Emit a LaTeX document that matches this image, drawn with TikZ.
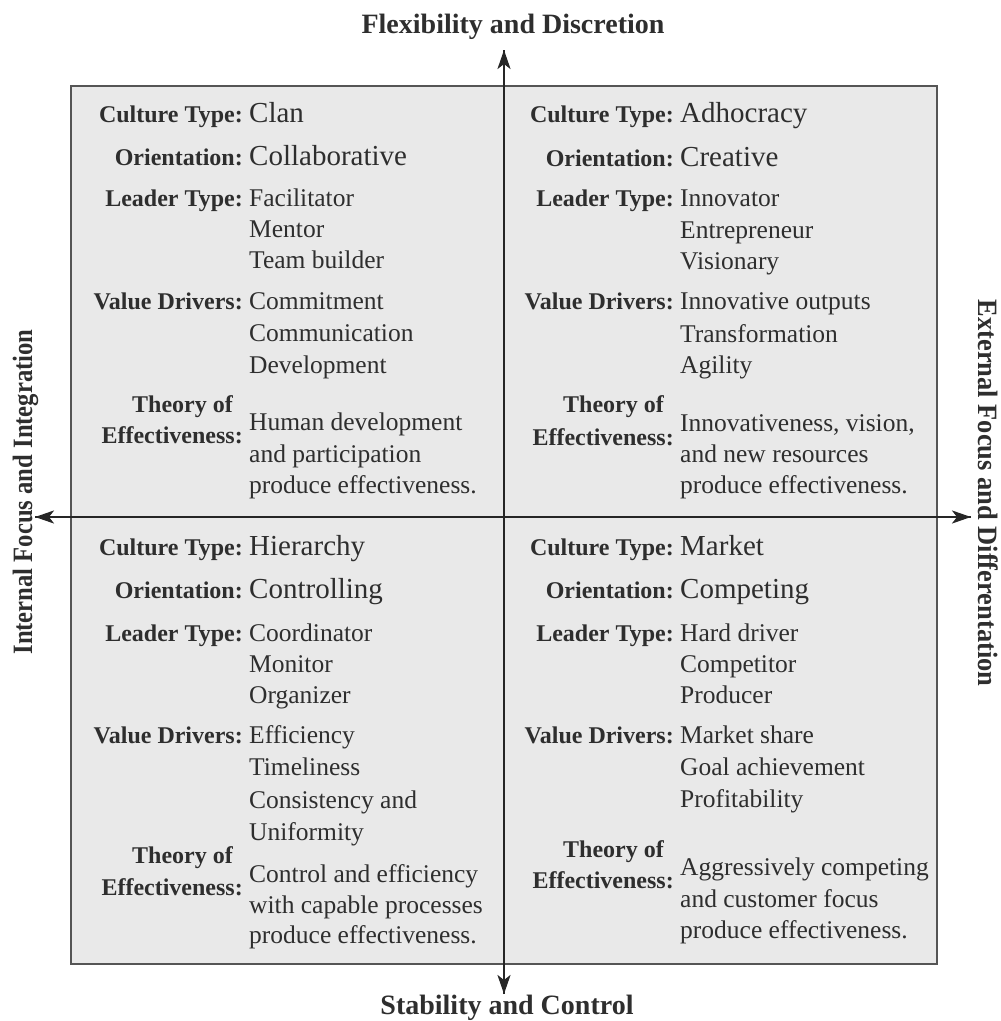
\documentclass[tikz,border=0pt]{standalone}
\usepackage{fontspec}
\setmainfont{Liberation Serif}
\usetikzlibrary{arrows.meta}
\definecolor{boxfill}{HTML}{E9E9E9}
\definecolor{boxline}{HTML}{555555}
\definecolor{txt}{HTML}{2E2E2E}
\begin{document}
\begin{tikzpicture}[x=1pt,y=-1pt,
  lab/.style={anchor=base east,inner sep=0pt,text=txt,font=\fontsize{24}{28}\selectfont\bfseries},
  val/.style={anchor=base west,inner sep=0pt,text=txt,font=\fontsize{25.5}{31}\selectfont},
  big/.style={anchor=base west,inner sep=0pt,text=txt,font=\fontsize{29}{34}\selectfont},
  axlab/.style={inner sep=0pt,text=txt,font=\fontsize{28}{32}\selectfont\bfseries},
  axis/.style={line width=2.4pt,black!85,-{Stealth[length=19pt,width=13pt,inset=5pt]}}]
\useasboundingbox (0,0) rectangle (1001,1021);
\node[draw=boxline,fill=boxfill,line width=2pt,minimum width=866pt,minimum height=878pt,inner sep=0pt,anchor=north west] (box) at (70,85) {};
% axes
\coordinate (ctr) at (504,517);
\coordinate (top) at (504,50);
\coordinate (bot) at (504,994);
\coordinate (lft) at (35,517);
\coordinate (rgt) at (971,517);
\draw[axis] (bot) -- (top);
\draw[axis] (rgt) -- (lft);
\draw[axis] (lft) -- (rgt);
\draw[axis] (top) -- (bot);
% axis labels
\node[axlab,anchor=base] (tlab) at (513,33) {Flexibility and Discretion};
\node[axlab,anchor=base] (blab) at (507,1014) {Stability and Control};
\node[axlab,anchor=base,rotate=90] (llab) at (32,492) {\scalebox{0.88}[1]{Internal Focus and Integration}};
\node[axlab,anchor=base,rotate=-90] (rlab) at (978,493) {\scalebox{0.945}[1]{External Focus and Differentation}};
% ---------- Top left: Clan
\node[lab] (tl1) at (243,122) {Culture Type:};
\node[big] (tl1v) at (249,122) {Clan};
\node[lab] (tl2) at (243,165) {Orientation:};
\node[big] (tl2v) at (249,165) {Collaborative};
\node[lab] (tl3) at (243,206) {Leader Type:};
\node[val] (tl3a) at (249,206) {Facilitator};
\node[val] (tl3b) at (249,237) {Mentor};
\node[val] (tl3c) at (249,268) {Team builder};
\node[lab] (tl4) at (243,309) {Value Drivers:};
\node[val] (tl4a) at (249,309) {Commitment};
\node[val] (tl4b) at (249,341) {Communication};
\node[val] (tl4c) at (249,373) {Development};
\node[lab] (tl5) at (233,412) {Theory of};
\node[lab] (tl5b) at (243,443) {Effectiveness:};
\node[val] (tl5v1) at (249,430) {Human development};
\node[val] (tl5v2) at (249,462) {and participation};
\node[val] (tl5v3) at (249,493) {produce effectiveness.};
% ---------- Top right: Adhocracy
\node[lab] (tr1) at (674,122) {Culture Type:};
\node[big] (tr1v) at (680,122) {Adhocracy};
\node[lab] (tr2) at (674,166) {Orientation:};
\node[big] (tr2v) at (680,166) {Creative};
\node[lab] (tr3) at (674,206) {Leader Type:};
\node[val] (tr3a) at (680,206) {Innovator};
\node[val] (tr3b) at (680,238) {Entrepreneur};
\node[val] (tr3c) at (680,269) {Visionary};
\node[lab] (tr4) at (674,309) {Value Drivers:};
\node[val] (tr4a) at (680,309) {Innovative outputs};
\node[val] (tr4b) at (680,342) {Transformation};
\node[val] (tr4c) at (680,373) {Agility};
\node[lab] (tr5) at (664,412) {Theory of};
\node[lab] (tr5b) at (674,445) {Effectiveness:};
\node[val] (tr5v1) at (680,431) {Innovativeness, vision,};
\node[val] (tr5v2) at (680,462) {and new resources};
\node[val] (tr5v3) at (680,493) {produce effectiveness.};
% ---------- Bottom left: Hierarchy
\node[lab] (bl1) at (243,555) {Culture Type:};
\node[big] (bl1v) at (249,555) {Hierarchy};
\node[lab] (bl2) at (243,598) {Orientation:};
\node[big] (bl2v) at (249,598) {Controlling};
\node[lab] (bl3) at (243,641) {Leader Type:};
\node[val] (bl3a) at (249,641) {Coordinator};
\node[val] (bl3b) at (249,672) {Monitor};
\node[val] (bl3c) at (249,703) {Organizer};
\node[lab] (bl4) at (243,743) {Value Drivers:};
\node[val] (bl4a) at (249,743) {Efficiency};
\node[val] (bl4b) at (249,775) {Timeliness};
\node[val] (bl4c) at (249,808) {Consistency and};
\node[val] (bl4d) at (249,840) {Uniformity};
\node[lab] (bl5) at (233,863) {Theory of};
\node[lab] (bl5b) at (243,895) {Effectiveness:};
\node[val] (bl5v1) at (249,882) {Control and efficiency};
\node[val] (bl5v2) at (249,913) {with capable processes};
\node[val] (bl5v3) at (249,943) {produce effectiveness.};
% ---------- Bottom right: Market
\node[lab] (br1) at (674,555) {Culture Type:};
\node[big] (br1v) at (680,555) {Market};
\node[lab] (br2) at (674,598) {Orientation:};
\node[big] (br2v) at (680,598) {Competing};
\node[lab] (br3) at (674,641) {Leader Type:};
\node[val] (br3a) at (680,641) {Hard driver};
\node[val] (br3b) at (680,672) {Competitor};
\node[val] (br3c) at (680,703) {Producer};
\node[lab] (br4) at (674,743) {Value Drivers:};
\node[val] (br4a) at (680,743) {Market share};
\node[val] (br4b) at (680,775) {Goal achievement};
\node[val] (br4c) at (680,807) {Profitability};
\node[lab] (br5) at (664,857) {Theory of};
\node[lab] (br5b) at (674,888) {Effectiveness:};
\node[val] (br5v1) at (680,875) {Aggressively competing};
\node[val] (br5v2) at (680,907) {and customer focus};
\node[val] (br5v3) at (680,938) {produce effectiveness.};
\end{tikzpicture}
\end{document}
